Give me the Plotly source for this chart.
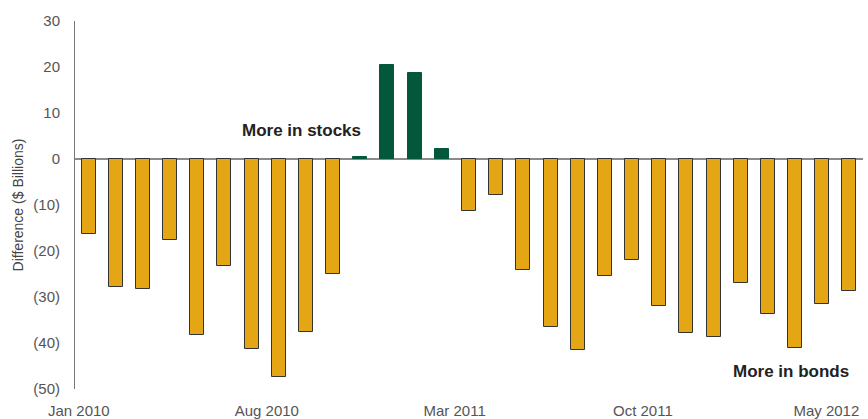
import plotly.graph_objects as go

months = ["Jan 2010", "Feb 2010", "Mar 2010", "Apr 2010", "May 2010", "Jun 2010",
          "Jul 2010", "Aug 2010", "Sep 2010", "Oct 2010", "Nov 2010", "Dec 2010",
          "Jan 2011", "Feb 2011", "Mar 2011", "Apr 2011", "May 2011", "Jun 2011",
          "Jul 2011", "Aug 2011", "Sep 2011", "Oct 2011", "Nov 2011", "Dec 2011",
          "Jan 2012", "Feb 2012", "Mar 2012", "Apr 2012", "May 2012"]
difference = [-16.2, -27.9, -28.3, -17.5, -38.3, -23.3, -41.2, -47.4, -37.5, -24.9,
              0.5, 20.4, 18.8, 2.2, -11.2, -7.9, -24.1, -36.6, -41.6, -25.4,
              -22.0, -32.0, -37.8, -38.6, -27.0, -33.7, -41.1, -31.6, -28.6]
tick_labels = ["Jan 2010", "Aug 2010", "Mar 2011", "Oct 2011", "May 2012"]
y_ticks = [30, 20, 10, 0, -10, -20, -30, -40, -50]
y_tick_text = ["30", "20", "10", "0", "(10)", "(20)", "(30)", "(40)", "(50)"]

ORANGE = "#E5A615"
GREEN = "#03573B"

xs = list(range(len(months)))
fill = [GREEN if v > 0 else ORANGE for v in difference]
outline = [GREEN if v > 0 else "#333333" for v in difference]

fig = go.Figure()
fig.add_trace(go.Bar(
    x=xs, y=difference, width=0.515,
    marker=dict(color=fill, line=dict(color=outline, width=1)),
    customdata=months, hovertemplate="%{customdata}: %{y}<extra></extra>",
))

tick_offsets = [-0.36, -0.44, -0.53, -0.6, -0.85]
tickvals = [months.index(l) + o for l, o in zip(tick_labels, tick_offsets)]

font_family = "Liberation Sans, Arial, sans-serif"

fig.update_layout(
    width=868, height=419,
    margin=dict(l=75, r=5, t=21, b=30),
    paper_bgcolor="white", plot_bgcolor="white",
    showlegend=False,
    bargap=0,
    font=dict(family=font_family, size=15, color="#555555"),
    xaxis=dict(
        range=[-0.5, len(months) - 0.5],
        tickvals=tickvals, ticktext=tick_labels,
        showgrid=False, zeroline=False, showline=False, ticks="",
        tickfont=dict(size=15, color="#555555"),
        ticklabelstandoff=11,
        automargin=False,
    ),
    yaxis=dict(
        range=[-50, 30],
        tickvals=y_ticks, ticktext=y_tick_text,
        showgrid=False, zeroline=True, zerolinecolor="#8a8a8a", zerolinewidth=1.5,
        showline=True, linecolor="#777777", linewidth=1, ticks="",
        ticklabelstandoff=11,
        tickfont=dict(size=15, color="#555555"),
        automargin=False,
        title=dict(text="Difference ($ Billions)", font=dict(size=14, color="#444444"),
                   standoff=6),
    ),
    annotations=[
        dict(x=7.85, y=6.1, xref="x", yref="y", text="<b>More in stocks</b>",
             showarrow=False, font=dict(size=17, color="#222222", family=font_family)),
        dict(x=25.86, y=-46.1, xref="x", yref="y", text="<b>More in bonds</b>",
             showarrow=False, font=dict(size=17, color="#222222", family=font_family)),
    ],
)

fig.write_html("out.html")
